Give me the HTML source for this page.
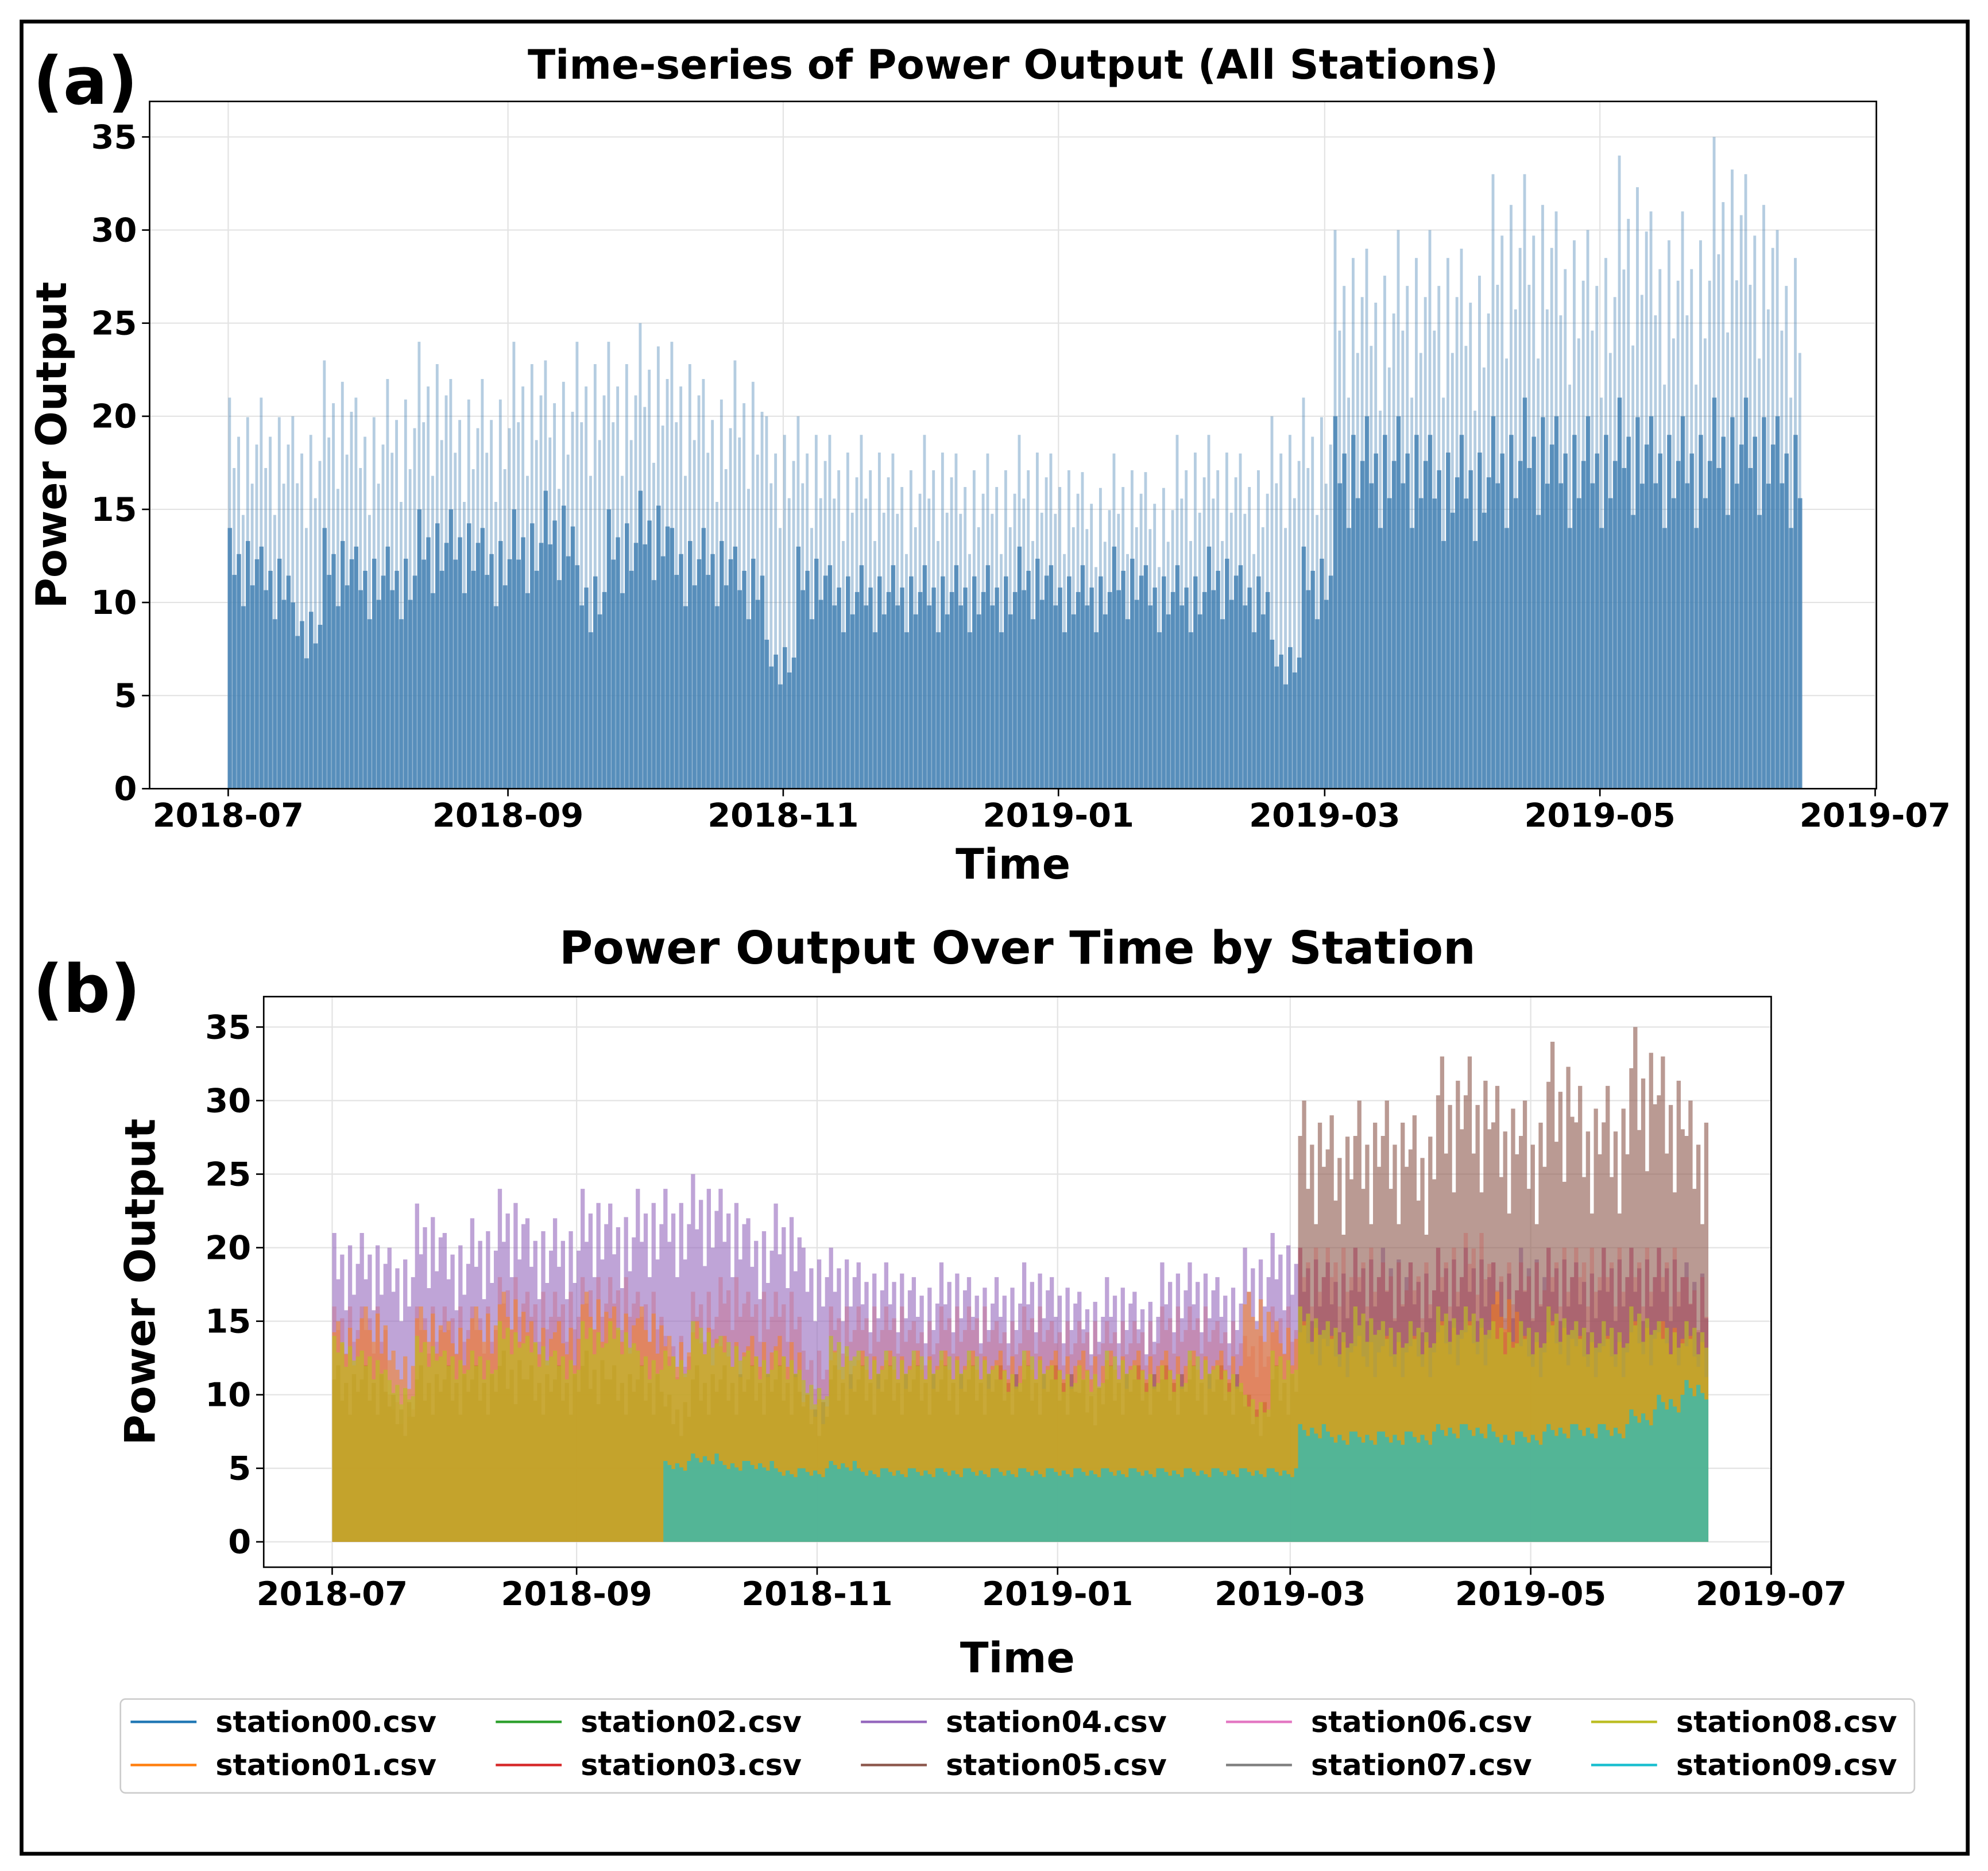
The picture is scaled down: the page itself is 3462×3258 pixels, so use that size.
<!DOCTYPE html>
<html><head><meta charset="utf-8"><style>
html,body{margin:0;padding:0;background:#fff}
svg{display:block}
text{font-family:"DejaVu Sans","Liberation Sans",sans-serif;font-weight:bold;fill:#000}
</style></head><body>
<svg id="chart" width="3462" height="3258" viewBox="0 0 1568 1475.6" preserveAspectRatio="none" xmlns="http://www.w3.org/2000/svg">
<rect x="0" y="0" width="1568" height="1476" fill="#fff"/>
<rect x="17" y="17" width="1535" height="1445" fill="none" stroke="#000" stroke-width="3"/>
<g id="pa"></g><g id="pb"></g><g id="legend"></g>
</svg>
<script>
// weekly peaks, weeks starting 2018-07-01
const totalPeak=[21,21,20,23,21,22,24,22,22,24,23,24,24,25,24,22,23,20,20,19,19,18,19,18,18,19,18,17,18,17,19,19,18,20,21,30,29,30,30,29,33,33,31,30,34,31,31,35,33,30];
const totalTypical=[14,13,10,14,13,13,15,15,14,15,16,12,15,16,14,14,13,8,13,12,12,12,12,12,12,13,12,12,13,12,12,13,12,8,13,20,20,20,19,19,20,21,20,20,21,20,20,21,21,20];
const st04=[21,21,20,23,21,22,24,22,22,24,23,24,24,25,24,22,23,20,20,19,19,18,19,18,18,19,18,17,18,17,19,19,18,20,21,20,19,20,20,19,20,20,19,20,20,19,20,20,20,19];
const st03=[16,16,10,16,16,16,18,17,17,18,18,17,14,17,18,17,17,13,16,16,16,15,16,16,15,16,15,15,15,15,16,16,15,14,16,20,20,20,19,19,20,21,19,19,20,20,20,20,20,18];
const st05=[12,12,10,12,12,12,13,12,12,13,12,12,10,12,12,12,12,10,12,12,12,12,12,12,12,12,12,11,12,12,12,12,12,10,12,30,29,30,30,29,33,33,31,30,34,31,31,35,33,30];
const st01=[15,16,13,16,15,16,17,15,15,17,16,16,14,15,14,14,14,10,13,13,13,13,13,13,13,13,13,13,13,13,13,13,13,17,15,15,14,14,14,14,15,15,17,14,15,14,14,15,15,14];
const st08=[14,13,11,14,13,13,15,14,13,15,15,13,13,15,14,13,13,11,14,13,13,13,13,13,12,13,12,12,13,12,12,13,12,10,13,16,15,16,15,15,16,16,15,15,16,15,15,16,15,15];
const st09=[0,0,0,0,0,0,0,0,0,0,0,0,5.5,6,5.5,5.5,5,5,5.5,5,5,5,5,5,5,5,5,5,5,5,5,5,5,5,5,8,7.5,7.5,7.5,7.5,8,8,7.5,7.5,8,8,8,9,10,11];
const yTicks=[0,5,10,15,20,25,30,35];
const xTickLabels=["2018-07","2018-09","2018-11","2019-01","2019-03","2019-05","2019-07"];
const xTickDays=[0,62,123,184,243,304,365];
const legendNames=["station00.csv","station01.csv","station02.csv","station03.csv","station04.csv","station05.csv","station06.csv","station07.csv","station08.csv","station09.csv"];
const legendColors=["#1f77b4","#ff7f0e","#2ca02c","#d62728","#9467bd","#8c564b","#e377c2","#7f7f7f","#bcbd22","#17becf"];

const NS="http://www.w3.org/2000/svg";
function mk(parent,tag,attrs,txt){const e=document.createElementNS(NS,tag);for(const k in attrs)e.setAttribute(k,attrs[k]);if(txt!==undefined)e.textContent=txt;parent.appendChild(e);return e;}

function drawAxes(g,L,R,T,B,x,y,title,titleY,titleSize,tag,tagX,tagY,xlabY,ylabX){
  yTicks.forEach(v=>{
    const l=mk(g,'line',{x1:L,x2:R,y1:y(v),y2:y(v),stroke:'#e3e3e3','stroke-width':1});
    
    
    const t=mk(g,'line',{x1:L-6,x2:L,y1:y(v),y2:y(v),stroke:'#000','stroke-width':1.2});
    
    
    const tx=mk(g,'text',{x:L-10,y:y(v)+9,'text-anchor':'end','font-size':26},String(v));
    
    
  });
  xTickDays.forEach((d,i)=>{
    const l=mk(g,'line',{x1:x(d),x2:x(d),y1:T,y2:B,stroke:'#e3e3e3','stroke-width':1});
    
    
    const t=mk(g,'line',{x1:x(d),x2:x(d),y1:B,y2:B+6,stroke:'#000','stroke-width':1.2});
    
    
    const tx=mk(g,'text',{x:x(d),y:B+30,'text-anchor':'middle','font-size':26},xTickLabels[i]);
    
    
  });
  const tt=mk(g,'text',{x:(L+R)/2,y:titleY,'text-anchor':'middle','font-size':titleSize},title);
  
  
  const tg=mk(g,'text',{x:tagX,y:tagY,'font-size':52},tag);
  
  
  const xl=mk(g,'text',{x:(L+R)/2,y:xlabY,'text-anchor':'middle','font-size':33},'Time');
  
  
  const yl=mk(g,'text',{x:ylabX,y:(T+B)/2,'text-anchor':'middle','font-size':33,transform:`rotate(-90 ${ylabX} ${(T+B)/2})`},'Power Output');
  
  
}
function frame(g,L,R,T,B){
  const f=mk(g,'rect',{x:L,y:T,width:R-L,height:B-T,fill:'none',stroke:'#000','stroke-width':1.2});
  
  
}
const NDAYS=349;
function dailyBars(g,vals,x,y,color,op,name,pat){
  const grp=mk(g,'g',{fill:color,'fill-opacity':op});
  
  
  const w=x(1)-x(0);
  let d='';
  vals.forEach((v,i)=>{
    for(let k=0;k<7;k++){
      const day=i*7+k; if(day>=NDAYS) break;
      const h=v*pat[k];
      if(h<=0) continue;
      d+=`M${x(day)},${y(0)}V${y(h)}H${x(day)+w+0.2}V${y(0)}Z`;
    }
  });
  mk(grp,'path',{d:d});
}

// Panel (a)
(function(){
  const g=document.getElementById('pa');
  const L=118,R=1480,T=80,B=622;
  const x=d=>180+d*(1479-180)/365, y=v=>622-v*(514/35);
  drawAxes(g,L,R,T,B,x,y,'Time-series of Power Output (All Stations)',62,32,'(a)',26,82,693,52);
  const bars=mk(g,'g',{});
  
  
  const pat=[1,0.82,0.9,0.7,0.95,0.78,0.88];
  totalPeak.forEach((v,i)=>{
    for(let k=0;k<7;k++){
      const d=i*7+k; if(d>=NDAYS) break;
      const f=pat[k];
      const r=mk(bars,'rect',{x:x(d),y:y(v*f),width:2.2,height:y(0)-y(v*f),fill:'#4682b4','fill-opacity':0.4});
      
      
      const tv=totalTypical[i]*f;
      const r2=mk(bars,'rect',{x:x(d)-0.4,y:y(tv),width:3.4,height:y(0)-y(tv),fill:'#4682b4','fill-opacity':0.85});
      
      
    }
  });
  frame(g,L,R,T,B);
})();

// Panel (b)
(function(){
  const g=document.getElementById('pb');
  const L=208,R=1397,T=786,B=1236;
  const x=d=>262+d*(1397-262)/365, y=v=>1216-v*(406/35);
  drawAxes(g,L,R,T,B,x,y,'Power Output Over Time by Station',760,36,'(b)',26,798,1319,122);
  dailyBars(g,st04,x,y,'#9467bd',0.6,'station04-bars',[1,0.85,0.93,0.75,0.96,0.8,0.9]);
  dailyBars(g,st05,x,y,'#8c564b',0.6,'station05-bars',[0.92,1,0.8,0.9,0.72,0.95,0.85]);
  dailyBars(g,st03,x,y,'#d62728',0.2,'station03-bars',[1,0.9,0.95,0.8,1,0.85,0.9]);
  dailyBars(g,st01,x,y,'#ff7f0e',0.5,'station01-bars',[0.95,1,0.9,0.85,0.97,0.8,0.92]);
  dailyBars(g,st08,x,y,'#bcbd22',0.65,'station08-bars',[1,0.92,0.97,0.85,0.95,0.88,0.9]);
  dailyBars(g,st09,x,y,'#17becf',0.65,'station09-bars',[1,0.95,0.9,0.97,0.92,0.88,1]);
  frame(g,L,R,T,B);
})();

// Legend
(function(){
  const g=document.getElementById('legend');
  const box=mk(g,'rect',{x:95,y:1340,width:1415,height:74,rx:4,fill:'#fff',stroke:'#ccc','stroke-width':1.2});
  
  
  legendNames.forEach((n,i)=>{
    const col=Math.floor(i/2),row=i%2;
    const lx=103+col*288, ly=1358+row*34;
    const e=mk(g,'g',{});
    
    
    mk(e,'line',{x1:lx,x2:lx+52,y1:ly,y2:ly,stroke:legendColors[i],'stroke-width':2});
    mk(e,'text',{x:lx+67,y:ly+8,'font-size':23},n);
  });
})();
</script>
</body></html>
